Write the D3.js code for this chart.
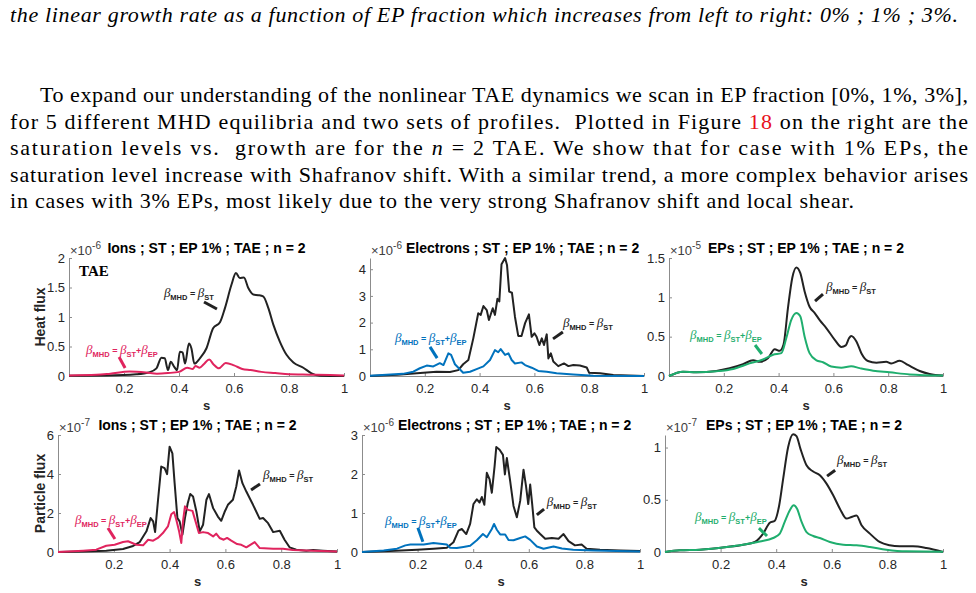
<!DOCTYPE html>
<html>
<head>
<meta charset="utf-8">
<script src="https://cdn.jsdelivr.net/npm/d3@7"></script>
<style>
	body { margin: 0; background: #fff; }
	svg text { font-family: "Liberation Sans", Arial, sans-serif; white-space: pre; }
</style>
</head>
<body>
<svg id="page" width="976" height="593"></svg>
<script>
// ---- data : [ s, flux ] (flux in units of the axis exponent)
var ions_heat_st = [[0,0.005],[0.136,0.01],[0.245,0.03],[0.29,0.06],[0.318,0.13],[0.336,0.31],[0.348,0.30],[0.36,0.10],[0.37,0.24],[0.382,0.16],[0.393,0.10],[0.403,0.41],[0.413,0.40],[0.422,0.21],[0.436,0.55],[0.445,0.47],[0.456,0.21],[0.476,0.30],[0.5,0.47],[0.524,0.81],[0.549,0.91],[0.567,1.15],[0.591,1.55],[0.607,1.745],[0.621,1.66],[0.636,1.67],[0.652,1.49],[0.67,1.38],[0.688,1.37],[0.706,1.35],[0.725,1.15],[0.743,0.87],[0.767,0.58],[0.791,0.36],[0.816,0.23],[0.852,0.14],[0.882,0.045],[0.913,0.005],[1,0]];
var ions_heat_ep = [[0,0.01],[0.1,0.02],[0.15,0.04],[0.22,0.075],[0.28,0.06],[0.32,0.04],[0.36,0.05],[0.4,0.07],[0.43,0.14],[0.45,0.12],[0.46,0.17],[0.475,0.14],[0.49,0.2],[0.51,0.28],[0.525,0.2],[0.545,0.13],[0.57,0.22],[0.6,0.18],[0.63,0.12],[0.66,0.1],[0.7,0.07],[0.75,0.05],[0.8,0.03],[0.85,0.025],[0.9,0.02],[1,0.01]];

var elec_heat_st = [[0,0],[0.1,0.05],[0.195,0.12],[0.243,0.16],[0.292,0.15],[0.322,0.22],[0.34,0.44],[0.359,0.6],[0.377,1.41],[0.395,2.35],[0.404,2.29],[0.414,2.62],[0.426,2.47],[0.434,2.1],[0.448,2.54],[0.456,2.29],[0.465,2.89],[0.472,2.79],[0.48,4.19],[0.493,4.42],[0.5,4.16],[0.508,3.16],[0.518,3.12],[0.529,2.22],[0.541,1.5],[0.553,1.5],[0.566,1.98],[0.58,2.31],[0.59,1.47],[0.6,1.6],[0.608,1.47],[0.618,1.16],[0.627,1.41],[0.635,1.16],[0.645,1.56],[0.651,0.66],[0.66,0.85],[0.669,0.54],[0.687,0.37],[0.708,0.47],[0.724,0.37],[0.742,0.41],[0.766,0.39],[0.791,0.32],[0.8,0.12],[0.84,0.1],[0.888,0.04],[1,0]];
var elec_heat_ep = [[0,0.01],[0.12,0.08],[0.158,0.16],[0.182,0.29],[0.207,0.39],[0.231,0.36],[0.255,0.48],[0.268,0.41],[0.286,0.85],[0.296,0.79],[0.31,0.44],[0.34,0.12],[0.365,0.16],[0.389,0.26],[0.414,0.36],[0.438,0.6],[0.456,0.97],[0.468,0.89],[0.477,1.01],[0.493,0.79],[0.505,0.85],[0.517,0.6],[0.529,0.47],[0.553,0.51],[0.566,0.41],[0.59,0.31],[0.614,0.19],[0.645,0.16],[0.681,0.1],[0.742,0.06],[0.815,0.01],[1,0]];

var ep_heat_st = [[0,0],[0.051,0.055],[0.1,0.047],[0.173,0.064],[0.221,0.098],[0.27,0.15],[0.307,0.2],[0.331,0.18],[0.361,0.225],[0.386,0.34],[0.404,0.32],[0.418,0.4],[0.434,0.86],[0.45,1.25],[0.465,1.38],[0.479,1.31],[0.495,1.075],[0.513,0.88],[0.532,0.8],[0.55,0.71],[0.574,0.61],[0.605,0.46],[0.629,0.37],[0.645,0.39],[0.657,0.48],[0.665,0.51],[0.684,0.44],[0.702,0.29],[0.726,0.19],[0.757,0.17],[0.793,0.18],[0.811,0.16],[0.842,0.195],[0.872,0.14],[0.915,0.064],[0.951,0.026],[1,0.005]];
var ep_heat_ep = [[0,0],[0.051,0.055],[0.1,0.047],[0.173,0.06],[0.234,0.09],[0.294,0.16],[0.343,0.21],[0.38,0.27],[0.41,0.29],[0.428,0.48],[0.446,0.71],[0.465,0.8],[0.479,0.76],[0.495,0.5],[0.513,0.29],[0.538,0.2],[0.562,0.175],[0.592,0.12],[0.629,0.106],[0.665,0.123],[0.696,0.1],[0.745,0.068],[0.805,0.047],[0.878,0.02],[1,0.005]];

var ions_part_st = [[0,0],[0.09,0.03],[0.173,0.07],[0.233,0.15],[0.269,0.31],[0.293,0.51],[0.317,1.06],[0.332,1.74],[0.341,1.57],[0.348,1.02],[0.358,2.59],[0.37,4.38],[0.382,4.3],[0.391,3.99],[0.4,5.4],[0.41,5.06],[0.418,3.53],[0.428,1.74],[0.436,1.57],[0.446,0.89],[0.455,1.74],[0.465,2.5],[0.474,2.97],[0.484,2.85],[0.496,2.08],[0.508,1.06],[0.52,1.4],[0.532,2.68],[0.541,2.97],[0.556,2.25],[0.573,1.82],[0.585,1.6],[0.597,2.05],[0.609,2.42],[0.627,2.68],[0.639,3.36],[0.649,4.18],[0.661,3.53],[0.675,3.1],[0.699,2.42],[0.723,1.7],[0.735,1.74],[0.753,1.48],[0.771,1.02],[0.795,1.09],[0.812,0.63],[0.83,0.24],[0.854,0.12],[0.89,0.07],[0.914,0.1],[0.95,0.07],[1,0.02]];
var ions_part_ep = [[0,0],[0.09,0.07],[0.137,0.12],[0.173,0.32],[0.203,0.37],[0.233,0.51],[0.251,0.55],[0.281,0.37],[0.305,0.34],[0.323,0.63],[0.341,0.58],[0.358,0.72],[0.376,0.97],[0.394,1.31],[0.406,1.94],[0.416,2.05],[0.424,1.65],[0.434,1.06],[0.442,0.46],[0.448,1.57],[0.455,2.34],[0.466,2.16],[0.482,2.11],[0.493,1.57],[0.505,0.97],[0.52,1.02],[0.538,0.97],[0.556,0.8],[0.567,0.94],[0.579,0.72],[0.594,0.63],[0.606,0.72],[0.621,0.58],[0.642,0.41],[0.657,0.37],[0.675,0.24],[0.705,0.51],[0.723,0.2],[0.771,0.17],[0.806,0.17],[0.842,0.1],[0.914,0.07],[1,0.02]];

var elec_part_st = [[0,0],[0.102,0.025],[0.198,0.06],[0.257,0.085],[0.305,0.11],[0.329,0.25],[0.347,0.55],[0.359,0.59],[0.375,0.46],[0.389,0.72],[0.401,1.23],[0.413,1.35],[0.423,1.27],[0.431,1.41],[0.44,1.21],[0.449,2.03],[0.459,1.86],[0.467,1.52],[0.477,2.2],[0.483,2.69],[0.495,2.62],[0.507,2.49],[0.514,1.99],[0.521,2.41],[0.533,1.82],[0.545,1.18],[0.557,0.89],[0.569,1.31],[0.581,2.11],[0.59,1.69],[0.598,1.23],[0.605,1.73],[0.612,1.24],[0.62,0.63],[0.631,0.53],[0.641,0.46],[0.659,0.34],[0.683,0.36],[0.707,0.34],[0.725,0.46],[0.743,0.28],[0.766,0.17],[0.79,0.19],[0.808,0.085],[0.856,0.06],[0.928,0.04],[1,0.025]];
var elec_part_ep = [[0,0],[0.078,0.04],[0.126,0.085],[0.156,0.17],[0.174,0.19],[0.222,0.19],[0.257,0.23],[0.281,0.21],[0.305,0.19],[0.317,0.11],[0.341,0.1],[0.365,0.13],[0.389,0.16],[0.413,0.3],[0.435,0.46],[0.449,0.38],[0.467,0.59],[0.475,0.72],[0.485,0.57],[0.497,0.45],[0.515,0.45],[0.527,0.31],[0.545,0.3],[0.569,0.36],[0.587,0.4],[0.605,0.31],[0.629,0.14],[0.653,0.085],[0.689,0.14],[0.719,0.09],[0.76,0.06],[0.832,0.04],[1,0.015]];

var ep_part_st = [[0,0],[0.054,0.016],[0.126,0.022],[0.222,0.048],[0.281,0.07],[0.323,0.096],[0.353,0.176],[0.377,0.28],[0.395,0.3],[0.411,0.45],[0.425,0.7],[0.443,1.006],[0.461,1.128],[0.473,1.11],[0.487,0.99],[0.509,0.83],[0.533,0.77],[0.557,0.735],[0.581,0.655],[0.605,0.543],[0.629,0.415],[0.653,0.32],[0.671,0.335],[0.689,0.35],[0.707,0.256],[0.737,0.176],[0.772,0.096],[0.808,0.064],[0.844,0.054],[0.892,0.054],[0.94,0.038],[1,0]];
var ep_part_ep = [[0,0],[0.054,0.016],[0.126,0.022],[0.222,0.048],[0.281,0.07],[0.341,0.1],[0.389,0.134],[0.413,0.176],[0.431,0.29],[0.449,0.4],[0.463,0.447],[0.475,0.415],[0.491,0.29],[0.509,0.19],[0.533,0.153],[0.557,0.134],[0.593,0.096],[0.641,0.07],[0.689,0.064],[0.737,0.048],[0.796,0.022],[0.868,0.006],[1,0.003]];

// ---- ticks
var x_ticks = [ 0.2, 0.4, 0.6, 0.8, 1 ];
var ions_heat_ticks = [ 0, 0.5, 1, 1.5, 2 ];
var elec_heat_ticks = [ 0, 1, 2, 3, 4 ];
var ep_heat_ticks   = [ 0, 0.5, 1, 1.5 ];
var ions_part_ticks = [ 0, 2, 4, 6 ];
var elec_part_ticks = [ 0, 1, 2, 3 ];
var ep_part_ticks   = [ 0, 0.5, 1 ];

var BLACK = '#222222', RED = '#e0245e', BLUE = '#0072bd', GREEN = '#1fae6e';

var LBL_ST = [ ['β','g'], ['MHD','s'], [' = ','o'], ['β','g'], ['ST','s'] ];
var LBL_EP = [ ['β','g'], ['MHD','s'], [' = ','o'], ['β','g'], ['ST','s'], ['+','o'], ['β','g'], ['EP','s'] ];

var svg = d3.select( '#page' );

// ---- page text above the figure
var text_lines = [
	{ x : 10, y : 22,    w : 948, italic : true, segs : [[ 'the linear growth rate as a function of EP fraction which increases from left to right: 0% ; 1% ; 3%.' ]] },
	{ x : 40, y : 102,   w : 928, segs : [[ 'To expand our understanding of the nonlinear TAE dynamics we scan in EP fraction [0%, 1%, 3%],' ]] },
	{ x : 10, y : 128.5, w : 958, segs : [[ 'for 5 different MHD equilibria and two sets of profiles.  Plotted in Figure ' ], [ '18', 'red' ], [ ' on the right are the' ]] },
	{ x : 10, y : 155,   w : 958, segs : [[ 'saturation levels vs.  growth are for the ' ], [ 'n', 'math' ], [ ' = 2 TAE. We show that for case with 1% EPs, the' ]] },
	{ x : 10, y : 181.5, w : 958, segs : [[ 'saturation level increase with Shafranov shift. With a similar trend, a more complex behavior arises' ]] },
	{ x : 10, y : 208,   w : 844, segs : [[ 'in cases with 3% EPs, most likely due to the very strong Shafranov shift and local shear.' ]] }
];

text_lines.forEach(function( l ){
	var t = svg.append( 'text' )
		.attr( 'x', l.x )
		.attr( 'y', l.y )
		.style( 'font-family', '"Liberation Serif", "Times New Roman", serif' )
		.style( 'font-size', '22px' )
		.style( 'font-style', l.italic ? 'italic' : 'normal' )
		.attr( 'fill', '#000' );
	l.segs.forEach(function( s ){
		var ts = t.append( 'tspan' ).text( s[0] );
		if( s[1] == 'red' ) ts.attr( 'fill', '#e8101c' );
		if( s[1] == 'math' ) ts.style( 'font-style', 'italic' );
	});
	t.attr( 'textLength', l.w ).attr( 'lengthAdjust', 'spacing' );
});

// ---- panels
var panels = [
	{ x0 : 69,  x1 : 344, y0 : 376, y1 : 258, ymax : 2,    ticks : ions_heat_ticks, exp : '-6', title : 'Ions ; ST ; EP 1% ; TAE ; n = 2',      ylabel : 'Heat flux',
	  st : ions_heat_st, ep : ions_heat_ep, color : RED,   smooth : true,
	  ann_st : { tx : 0.345, ty : 1.41, l : [ 0.491, 1.254, 0.538, 1.136 ] }, ann_ep : { tx : 0.062, ty : 0.44, l : [ 0.182, 0.322, 0.204, 0.136 ] }, tae : true },
	{ x0 : 370, x1 : 644, y0 : 376, y1 : 258, ymax : 4.42, ticks : elec_heat_ticks, exp : '-6', title : 'Electrons ; ST ; EP 1% ; TAE ; n = 2',
	  st : elec_heat_st, ep : elec_heat_ep, color : BLUE,  smooth : false,
	  ann_st : { tx : 0.704, ty : 1.99, l : [ 0.668, 1.39, 0.704, 1.65 ] },  ann_ep : { tx : 0.091, ty : 1.42, l : [ 0.219, 1.09, 0.245, 0.67 ] } },
	{ x0 : 669, x1 : 943, y0 : 376, y1 : 258, ymax : 1.5,  ticks : ep_heat_ticks,   exp : '-5', title : 'EPs ; ST ; EP 1% ; TAE ; n = 2',
	  st : ep_heat_st, ep : ep_heat_ep, color : GREEN,     smooth : true,
	  ann_st : { tx : 0.573, ty : 1.13, l : [ 0.533, 0.953, 0.562, 1.042 ] }, ann_ep : { tx : 0.077, ty : 0.52, l : [ 0.314, 0.394, 0.339, 0.28 ] } },
	{ x0 : 58,  x1 : 337, y0 : 552, y1 : 435, ymax : 6,    ticks : ions_part_ticks, exp : '-7', title : 'Ions ; ST ; EP 1% ; TAE ; n = 2',      ylabel : 'Particle flux',
	  st : ions_part_st, ep : ions_part_ep, color : RED,   smooth : false,
	  ann_st : { tx : 0.735, ty : 3.95, l : [ 0.692, 3.18, 0.724, 3.49 ] },  ann_ep : { tx : 0.061, ty : 1.64, l : [ 0.179, 1.23, 0.204, 0.67 ] } },
	{ x0 : 362, x1 : 640, y0 : 552, y1 : 435, ymax : 3,    ticks : elec_part_ticks, exp : '-6', title : 'Electrons ; ST ; EP 1% ; TAE ; n = 2',
	  st : elec_part_st, ep : elec_part_ep, color : BLUE,  smooth : false,
	  ann_st : { tx : 0.665, ty : 1.28, l : [ 0.629, 0.95, 0.655, 1.10 ] },  ann_ep : { tx : 0.083, ty : 0.79, l : [ 0.201, 0.62, 0.219, 0.26 ] } },
	{ x0 : 665, x1 : 943, y0 : 552, y1 : 435, ymax : 1.12, ticks : ep_part_ticks,   exp : '-7', title : 'EPs ; ST ; EP 1% ; TAE ; n = 2',
	  st : ep_part_st, ep : ep_part_ep, color : GREEN,     smooth : true,
	  ann_st : { tx : 0.619, ty : 0.88, l : [ 0.583, 0.726, 0.612, 0.783 ] }, ann_ep : { tx : 0.108, ty : 0.334, l : [ 0.338, 0.229, 0.367, 0.153 ] } }
];

function beta_label( g, x, y, parts, color ){
	var t = g.append( 'text' ).attr( 'x', x ).attr( 'y', y ).attr( 'fill', color );
	var shift = 0;
	parts.forEach(function( p ){
		var ts = t.append( 'tspan' ).text( p[0] );
		var want = p[1] == 's' ? 3 : 0;
		ts.attr( 'dy', want - shift );
		shift = want;
		if( p[1] == 'g' ){
			ts.style( 'font-family', '"Liberation Serif", serif' ).style( 'font-style', 'italic' ).style( 'font-size', '13px' );
		} else if( p[1] == 's' ){
			ts.style( 'font-weight', 'bold' ).style( 'font-size', '7.5px' );
		} else {
			ts.style( 'font-weight', 'bold' ).style( 'font-size', '9px' );
		}
	});
}

function draw_panel( p ){
	var x = d3.scaleLinear().domain([ 0, 1 ]).range([ p.x0, p.x1 ]);
	var y = d3.scaleLinear().domain([ 0, p.ymax ]).range([ p.y0, p.y1 ]);
	var g = svg.append( 'g' );

	var x_axis = d3.axisBottom( x ).tickValues( x_ticks ).tickFormat(function(d){ return d; })
		.tickSizeInner( -3 ).tickSizeOuter( 0 ).tickPadding( 8 );
	var y_axis = d3.axisLeft( y ).tickValues( p.ticks ).tickFormat(function(d){ return d; })
		.tickSizeInner( -3 ).tickSizeOuter( 0 ).tickPadding( 4 );

	// Add the X Axis
	g.append( 'g' ).attr( 'transform', 'translate(0,' + p.y0 + ')' ).call( x_axis );
	// Add the Y Axis
	g.append( 'g' ).attr( 'transform', 'translate(' + p.x0 + ',0)' ).call( y_axis );

	g.selectAll( '.domain' ).attr( 'stroke', '#8c8c8c' );
	g.selectAll( '.tick line' ).attr( 'stroke', '#8c8c8c' );
	g.selectAll( '.tick text' )
		.attr( 'fill', '#262626' )
		.style( 'font-family', '"Liberation Sans", Arial, sans-serif' )
		.style( 'font-size', '13px' );

	// exponent label
	var ex = g.append( 'text' )
		.attr( 'x', p.x0 + 1 )
		.attr( 'y', p.y1 - 3 )
		.attr( 'fill', '#404040' )
		.style( 'font-size', '13px' );
	ex.append( 'tspan' ).text( '×10' );
	ex.append( 'tspan' ).attr( 'dy', -6 ).style( 'font-size', '10px' ).text( p.exp );
	var ex_end = p.x0 + 1 + ex.node().getComputedTextLength();

	// title
	var tt = g.append( 'text' )
		.attr( 'y', p.y1 - 5 )
		.attr( 'text-anchor', 'start' )
		.attr( 'fill', '#000' )
		.style( 'font-weight', 'bold' )
		.style( 'font-size', '14px' )
		.text( p.title );
	var tw = tt.node().getComputedTextLength();
	var tx = Math.max( ( p.x0 + p.x1 ) / 2 - tw / 2, ex_end + 4 );
	tt.attr( 'x', tx );

	// x label
	g.append( 'text' )
		.attr( 'x', ( p.x0 + p.x1 ) / 2 )
		.attr( 'y', p.y0 + 34 )
		.attr( 'text-anchor', 'middle' )
		.attr( 'fill', '#262626' )
		.style( 'font-weight', 'bold' )
		.style( 'font-size', '13px' )
		.text( 's' );

	// y label
	if( p.ylabel ){
		g.append( 'text' )
			.attr( 'transform', 'translate(45,' + ( p.y0 + p.y1 ) / 2 + ') rotate(-90)' )
			.attr( 'text-anchor', 'middle' )
			.attr( 'fill', '#262626' )
			.style( 'font-weight', 'bold' )
			.style( 'font-size', '14px' )
			.text( p.ylabel );
	}

	// Define the lines
	var line = d3.line()
		.x(function(d){ return x( d[0] ); })
		.y(function(d){ return y( d[1] ); })
		.curve( p.smooth ? d3.curveMonotoneX : d3.curveLinear );

	g.append( 'path' )
		.attr( 'd', line( p.st ) )
		.attr( 'fill', 'none' )
		.attr( 'stroke', BLACK )
		.attr( 'stroke-width', 2 )
		.attr( 'stroke-linejoin', 'round' );

	g.append( 'path' )
		.attr( 'd', line( p.ep ) )
		.attr( 'fill', 'none' )
		.attr( 'stroke', p.color )
		.attr( 'stroke-width', 2 )
		.attr( 'stroke-linejoin', 'round' );

	// annotations
	[ [ p.ann_st, LBL_ST, BLACK ], [ p.ann_ep, LBL_EP, p.color ] ].forEach(function( a ){
		var n = a[0];
		beta_label( g, x( n.tx ), y( n.ty ) + 4, a[1], a[2] );
		g.append( 'line' )
			.attr( 'x1', x( n.l[0] ) ).attr( 'y1', y( n.l[1] ) )
			.attr( 'x2', x( n.l[2] ) ).attr( 'y2', y( n.l[3] ) )
			.attr( 'stroke', a[2] )
			.attr( 'stroke-width', 3 );
	});

	if( p.tae ){
		g.append( 'text' )
			.attr( 'x', p.x0 + 10 )
			.attr( 'y', p.y1 + 18 )
			.attr( 'fill', '#000' )
			.style( 'font-family', '"Liberation Serif", serif' )
			.style( 'font-weight', 'bold' )
			.style( 'font-size', '15px' )
			.text( 'TAE' );
	}
}

panels.forEach( draw_panel );
</script>
</body>
</html>
